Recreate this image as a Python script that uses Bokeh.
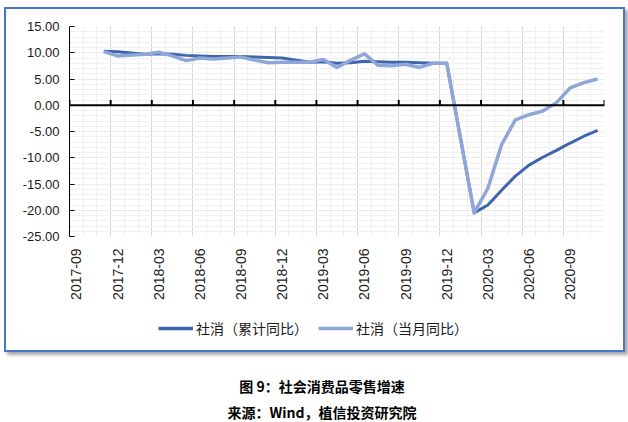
import math
from bokeh.plotting import figure
from bokeh.models import (ColumnDataSource, FixedTicker, NumeralTickFormatter, Span,
                          Legend, LegendItem, Range1d, Div)
from bokeh.layouts import column
from bokeh.embed import file_html
from bokeh.resources import INLINE

months = ["2017-09", "2017-10", "2017-11", "2017-12",
          "2018-01", "2018-02", "2018-03", "2018-04", "2018-05", "2018-06",
          "2018-07", "2018-08", "2018-09", "2018-10", "2018-11", "2018-12",
          "2019-01", "2019-02", "2019-03", "2019-04", "2019-05", "2019-06",
          "2019-07", "2019-08", "2019-09", "2019-10", "2019-11", "2019-12",
          "2020-01", "2020-02", "2020-03", "2020-04", "2020-05", "2020-06",
          "2020-07", "2020-08", "2020-09", "2020-10", "2020-11"]

# 社消（累计同比）
cum = [None, None, 10.3, 10.2,
       None, 9.7, 9.8, 9.7, 9.5, 9.4, 9.3, 9.3, 9.3, 9.2, 9.1, 9.0,
       None, 8.2, 8.3, 8.0, 8.1, 8.4, 8.3, 8.2, 8.2, 8.1, 8.0, 8.0,
       None, -20.5, -19.0, -16.2, -13.5, -11.4, -9.9, -8.6, -7.2, -5.9, -4.8]

# 社消（当月同比）
mon = [None, None, 10.2, 9.4,
       None, 9.7, 10.1, 9.4, 8.5, 9.0, 8.8, 9.0, 9.2, 8.6, 8.1, 8.2,
       None, 8.2, 8.7, 7.2, 8.6, 9.8, 7.6, 7.5, 7.8, 7.2, 8.0, 8.0,
       None, -20.5, -15.8, -7.5, -2.8, -1.8, -1.1, 0.5, 3.3, 4.3, 5.0]

y_ticks = [-25, -20, -15, -10, -5, 0, 5, 10, 15]
series_names = ["社消（累计同比）", "社消（当月同比）"]
caption_title = "图 9：社会消费品零售增速"
caption_source = "来源：Wind，植信投资研究院"

n = len(months)
label_idx = list(range(0, n, 3))
bounds = [i - 0.5 for i in range(0, n + 1, 3)]
minor_bounds = [i - 0.5 for i in range(0, n + 1)]


def present(vals):
    xs = [i for i, v in enumerate(vals) if v is not None]
    ys = [v for v in vals if v is not None]
    return ColumnDataSource(dict(x=xs, y=ys))


src_cum = present(cum)
src_mon = present(mon)

DARK = "#3F65AF"
LIGHT = "#8FA6D9"
BLUE_BOX = "#4A76C6"
W = 617

# ---------------- main chart ----------------
p = figure(width=W, height=299, output_backend="svg", toolbar_location=None,
           x_range=Range1d(-0.5, n - 0.5), y_range=Range1d(y_ticks[0], y_ticks[-1]),
           min_border_left=63, min_border_right=19, min_border_top=17,
           min_border_bottom=72)
p.outline_line_color = None
p.background_fill_color = "white"
p.border_fill_color = "white"

p.xgrid.ticker = FixedTicker(ticks=bounds, minor_ticks=minor_bounds)
p.xgrid.grid_line_color = "#d6d6d6"
p.xgrid.minor_grid_line_color = "#efefef"
p.ygrid.ticker = FixedTicker(ticks=y_ticks,
                             minor_ticks=list(range(y_ticks[0], y_ticks[-1] + 1)))
p.ygrid.grid_line_color = "#ebebeb"
p.ygrid.minor_grid_line_color = "#f1f1f1"

p.yaxis.ticker = FixedTicker(ticks=y_ticks)
p.yaxis.formatter = NumeralTickFormatter(format="0.00")
p.yaxis.major_tick_in = 5
p.yaxis.major_tick_out = 0
p.yaxis.minor_tick_line_color = None
p.yaxis.axis_line_color = "black"
p.yaxis.major_tick_line_color = "black"
p.yaxis.major_label_standoff = 10
p.yaxis.major_label_text_font = "Liberation Sans"
p.yaxis.major_label_text_font_size = "13px"
p.yaxis.major_label_text_color = "#1a1a1a"

p.xaxis.ticker = FixedTicker(ticks=label_idx)
p.xaxis.major_label_overrides = {i: months[i] for i in label_idx}
p.xaxis.major_label_orientation = math.pi / 2
p.xaxis.axis_line_color = None
p.xaxis.major_tick_line_color = None
p.xaxis.minor_tick_line_color = None
p.xaxis.major_label_standoff = 6
p.xaxis.major_label_text_font = "Liberation Sans"
p.xaxis.major_label_text_font_size = "14px"
p.xaxis.major_label_text_color = "#1a1a1a"

p.add_layout(Span(location=0, dimension="width", line_color="black", line_width=2))
p.segment(x0=bounds, y0=[0] * len(bounds), x1=bounds, y1=[1.0] * len(bounds),
          line_color="black", line_width=2)

p.line("x", "y", source=src_cum, line_color=DARK, line_width=3, line_join="round")
p.line("x", "y", source=src_mon, line_color=LIGHT, line_width=3.5, line_join="round")

# ---------------- legend strip (same series, drawn out of view) ----------------
lf = figure(width=W, height=42, output_backend="svg", toolbar_location=None,
            x_range=Range1d(-10, -9), y_range=Range1d(0, 1),
            x_axis_location=None, y_axis_location=None,
            min_border=0, min_border_left=0, min_border_right=0,
            min_border_top=0, min_border_bottom=0)
lf.grid.visible = False
lf.outline_line_color = None
lf.background_fill_color = "white"
lf.border_fill_color = "white"
k1 = lf.line("x", "y", source=src_cum, line_color=DARK, line_width=3.5)
k2 = lf.line("x", "y", source=src_mon, line_color=LIGHT, line_width=3.5)
legend = Legend(items=[LegendItem(label=series_names[0], renderers=[k1]),
                       LegendItem(label=series_names[1], renderers=[k2])],
                orientation="horizontal", location=(89, 12),
                border_line_color=None, background_fill_alpha=0,
                label_text_font="Noto Sans CJK SC", label_text_font_size="14px",
                label_text_color="#1a1a1a",
                glyph_width=35, label_standoff=3, spacing=10, padding=5, margin=0)
lf.add_layout(legend)

box = column(p, lf, spacing=0,
             styles={"border": f"2px solid {BLUE_BOX}",
                     "box-shadow": "3px 3px 3px #a8a8a8",
                     "margin-left": "4px", "margin-top": "7px"})

caption = Div(width=628, height=70, text=(
    '<div style="width:628px;text-align:center;padding-left:6px;padding-top:16px;'
    'font-family:\'Noto Sans CJK SC\';font-weight:bold;font-size:14px;'
    'line-height:26px;color:#000;">'
    f'{caption_title}<br>{caption_source}</div>'))

layout = column(box, caption, spacing=0)
open("out.html", "w").write(file_html(layout, INLINE))
